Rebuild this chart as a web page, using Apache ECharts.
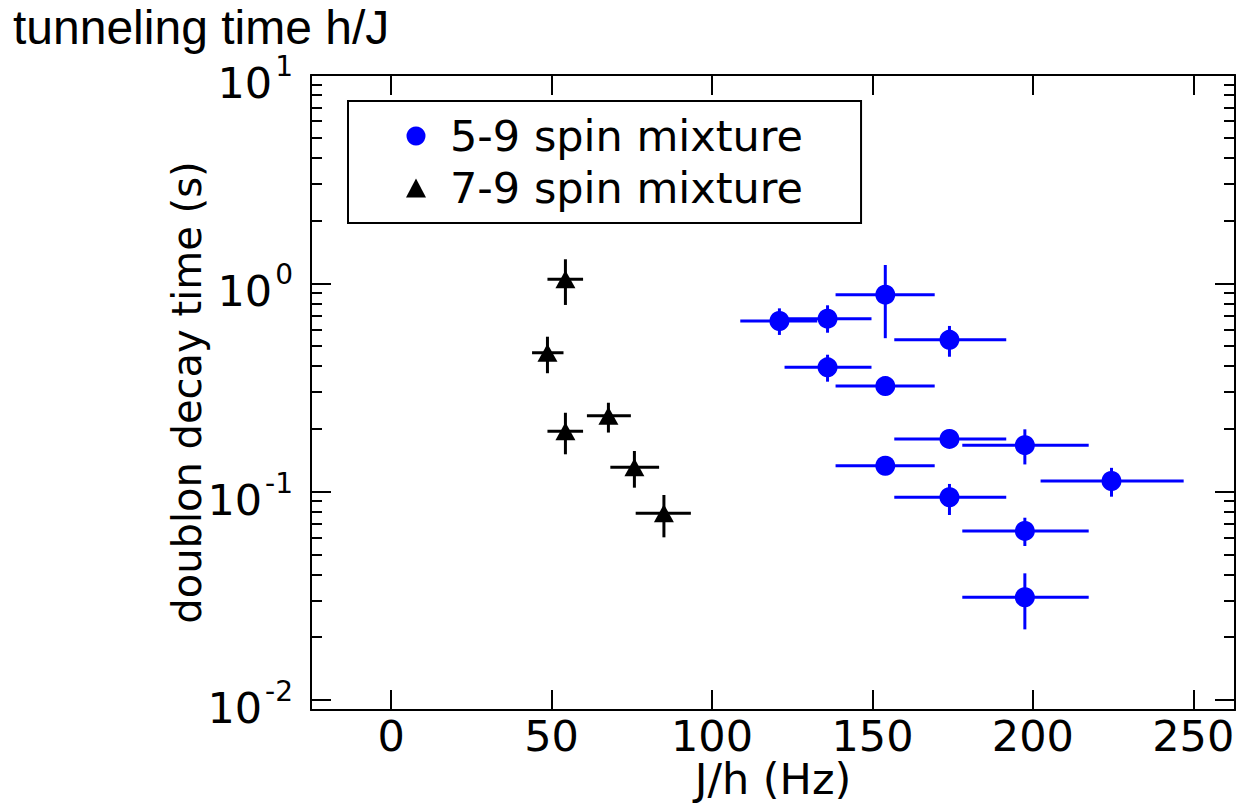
<!DOCTYPE html>
<html>
<head>
<meta charset="utf-8">
<script src="https://cdn.jsdelivr.net/npm/echarts@6/dist/echarts.min.js"></script>
<style>html,body{margin:0;padding:0;background:#fff}#c{width:1242px;height:806px}</style>
</head>
<body>
<div id="c"></div>
<script>
// ---- data ----
const seriesNames = ['5-9 spin mixture', '7-9 spin mixture'];

const blueX   = [121, 136, 154, 174, 136, 154, 174, 197.5, 154, 224.5, 174, 197.5, 197.5];
const blueY   = [0.659, 0.676, 0.882, 0.535, 0.395, 0.321, 0.179, 0.167, 0.133, 0.1124, 0.0939, 0.0647, 0.0311];
const blueXLo = [108.8, 122.6, 138.5, 156.8, 122.6, 138.5, 156.8, 178, 138.5, 202.4, 156.8, 178, 178];
const blueXHi = [132.8, 149.7, 169.4, 191.7, 149.7, 169.4, 191.7, 217.4, 169.4, 247, 191.7, 217.4, 217.4];
const blueYLo = [0.565, 0.579, 0.545, 0.444, 0.337, 0.306, 0.171, 0.135, 0.127, 0.0945, 0.0772, 0.0548, 0.0218];
const blueYHi = [0.758, 0.784, 1.224, 0.624, 0.454, 0.336, 0.187, 0.199, 0.139, 0.130, 0.1088, 0.0749, 0.0405];

const blackX   = [54.3, 48.7, 54.3, 67.7, 75.8, 85.0];
const blackY   = [1.045, 0.464, 0.1948, 0.2314, 0.1309, 0.0787];
const blackXLo = [48.7, 43.9, 48.7, 61.0, 68.3, 76.2];
const blackXHi = [59.8, 53.7, 59.8, 74.7, 83.5, 93.4];
const blackYLo = [0.787, 0.370, 0.151, 0.192, 0.1044, 0.0603];
const blackYHi = [1.304, 0.554, 0.239, 0.267, 0.1566, 0.0963];

const xTicks = [0, 50, 100, 150, 200, 250];
const yMajorTicks = [0.01, 0.1, 1, 10];
const yMajorExponents = ['-2', '-1', '0', '1'];
const yMinorTicks = [0.02,0.03,0.04,0.05,0.06,0.07,0.08,0.09,
                     0.2,0.3,0.4,0.5,0.6,0.7,0.8,0.9,
                     2,3,4,5,6,7,8,9];

const X_MIN = -25, X_MAX = 263;
const Y_MIN = 0.00894, Y_MAX = 10;

// ---- build ----
function zipPts(xs, ys) { return xs.map((x, i) => [x, ys[i]]); }
function zipErr(xs, ys, xl, xh, yl, yh) { return xs.map((x, i) => [x, ys[i], xl[i], xh[i], yl[i], yh[i]]); }

function errRender(color) {
  return function (params, api) {
    const x = api.value(0), y = api.value(1);
    const l = api.coord([api.value(2), y]);
    const r = api.coord([api.value(3), y]);
    const lo = api.coord([x, api.value(4)]);
    const hi = api.coord([x, api.value(5)]);
    return {
      type: 'group',
      children: [
        { type: 'line', shape: { x1: l[0], y1: l[1], x2: r[0], y2: r[1] }, style: { stroke: color, lineWidth: 3 } },
        { type: 'line', shape: { x1: lo[0], y1: lo[1], x2: hi[0], y2: hi[1] }, style: { stroke: color, lineWidth: 3 } }
      ]
    };
  };
}

const FONT = 'DejaVu Sans';
const axisLineStyle = { show: true, onZero: false, lineStyle: { color: '#000', width: 2 } };

function yAxisDef(pos, ticks, len, withLabels, withLine) {
  return {
    type: 'log', position: pos, min: Y_MIN, max: Y_MAX, logBase: 10,
    splitLine: { show: false },
    axisLine: withLine ? axisLineStyle : { show: false, onZero: false },
    axisTick: { show: true, inside: true, length: len, customValues: ticks, lineStyle: { color: '#000', width: 2 } },
    axisLabel: withLabels ? {
      show: true, customValues: ticks, margin: 18,
      fontFamily: FONT, fontSize: 43, color: '#000',
      formatter: function (v) {
        const i = yMajorTicks.findIndex(t => Math.abs(Math.log10(t) - Math.log10(v)) < 1e-6);
        return i >= 0 ? '{b|10}{s|' + yMajorExponents[i] + '}' : '';
      },
      rich: {
        b: { fontFamily: FONT, fontSize: 43, color: '#000', lineHeight: 27, verticalAlign: 'top' },
        s: { fontFamily: FONT, fontSize: 28, color: '#000', lineHeight: 27, verticalAlign: 'bottom', padding: [0, 0, 8, 3] }
      }
    } : { show: false }
  };
}

function xAxisDef(pos, withLabels) {
  const d = {
    type: 'value', position: pos, min: X_MIN, max: X_MAX,
    splitLine: { show: false },
    axisLine: axisLineStyle,
    axisTick: { show: true, inside: true, length: 20, customValues: xTicks, lineStyle: { color: '#000', width: 2 } },
    axisLabel: withLabels ? { show: true, customValues: xTicks, fontFamily: FONT, fontSize: 43, lineHeight: 34, color: '#000', margin: 9, verticalAlign: 'top' } : { show: false }
  };
  if (withLabels) {
    d.name = 'J/h (Hz)';
    d.nameLocation = 'middle';
    d.nameGap = 49;
    d.nameMoveOverlap = false;
    d.nameTextStyle = { fontFamily: FONT, fontSize: 43, lineHeight: 40, color: '#000', verticalAlign: 'top' };
  }
  return d;
}

const yMain = yAxisDef('left', yMajorTicks, 20, true, true);
yMain.name = 'doublon decay time (s)';
yMain.nameLocation = 'middle';
yMain.nameGap = 104;
yMain.nameMoveOverlap = false;
yMain.nameTextStyle = { fontFamily: FONT, fontSize: 40, color: '#000' };

const option = {
  animation: false,
  backgroundColor: '#fff',
  title: {
    text: 'tunneling time h/J', left: 8, top: 0,
    textStyle: { fontFamily: 'Liberation Sans', fontSize: 48, lineHeight: 44, fontWeight: 'normal', color: '#000' }
  },
  grid: { left: 311, right: 7, top: 75, bottom: 96, containLabel: false },
  legend: {
    data: seriesNames,
    left: 348, top: 101, orient: 'vertical',
    padding: [10, 58, 10, 58], itemGap: 2,
    itemWidth: 20, itemHeight: 19,
    borderColor: '#000', borderWidth: 2, borderRadius: 0, backgroundColor: '#fff',
    textStyle: { fontFamily: FONT, fontSize: 43, color: '#000', lineHeight: 50, padding: [0, 0, 0, 19] }
  },
  xAxis: [xAxisDef('bottom', true), xAxisDef('top', false)],
  yAxis: [
    yMain,
    yAxisDef('left', yMinorTicks, 11, false, false),
    yAxisDef('right', yMajorTicks, 20, false, true),
    yAxisDef('right', yMinorTicks, 11, false, false)
  ],
  series: [
    { type: 'custom', name: 'err-blue', renderItem: errRender('#0000ff'), data: zipErr(blueX, blueY, blueXLo, blueXHi, blueYLo, blueYHi), encode: { x: 0, y: 1 }, z: 2, silent: true },
    { type: 'custom', name: 'err-black', renderItem: errRender('#000000'), data: zipErr(blackX, blackY, blackXLo, blackXHi, blackYLo, blackYHi), encode: { x: 0, y: 1 }, z: 2, silent: true },
    { type: 'scatter', name: seriesNames[0], data: zipPts(blueX, blueY), symbol: 'circle', symbolSize: 20, itemStyle: { color: '#0000ff', opacity: 1 }, z: 3 },
    { type: 'scatter', name: seriesNames[1], data: zipPts(blackX, blackY), symbol: 'triangle', symbolSize: [20, 18], itemStyle: { color: '#000000', opacity: 1 }, z: 3 }
  ]
};

const chart = echarts.init(document.getElementById('c'), null, { renderer: 'svg' });
chart.setOption(option);
</script>
</body>
</html>
